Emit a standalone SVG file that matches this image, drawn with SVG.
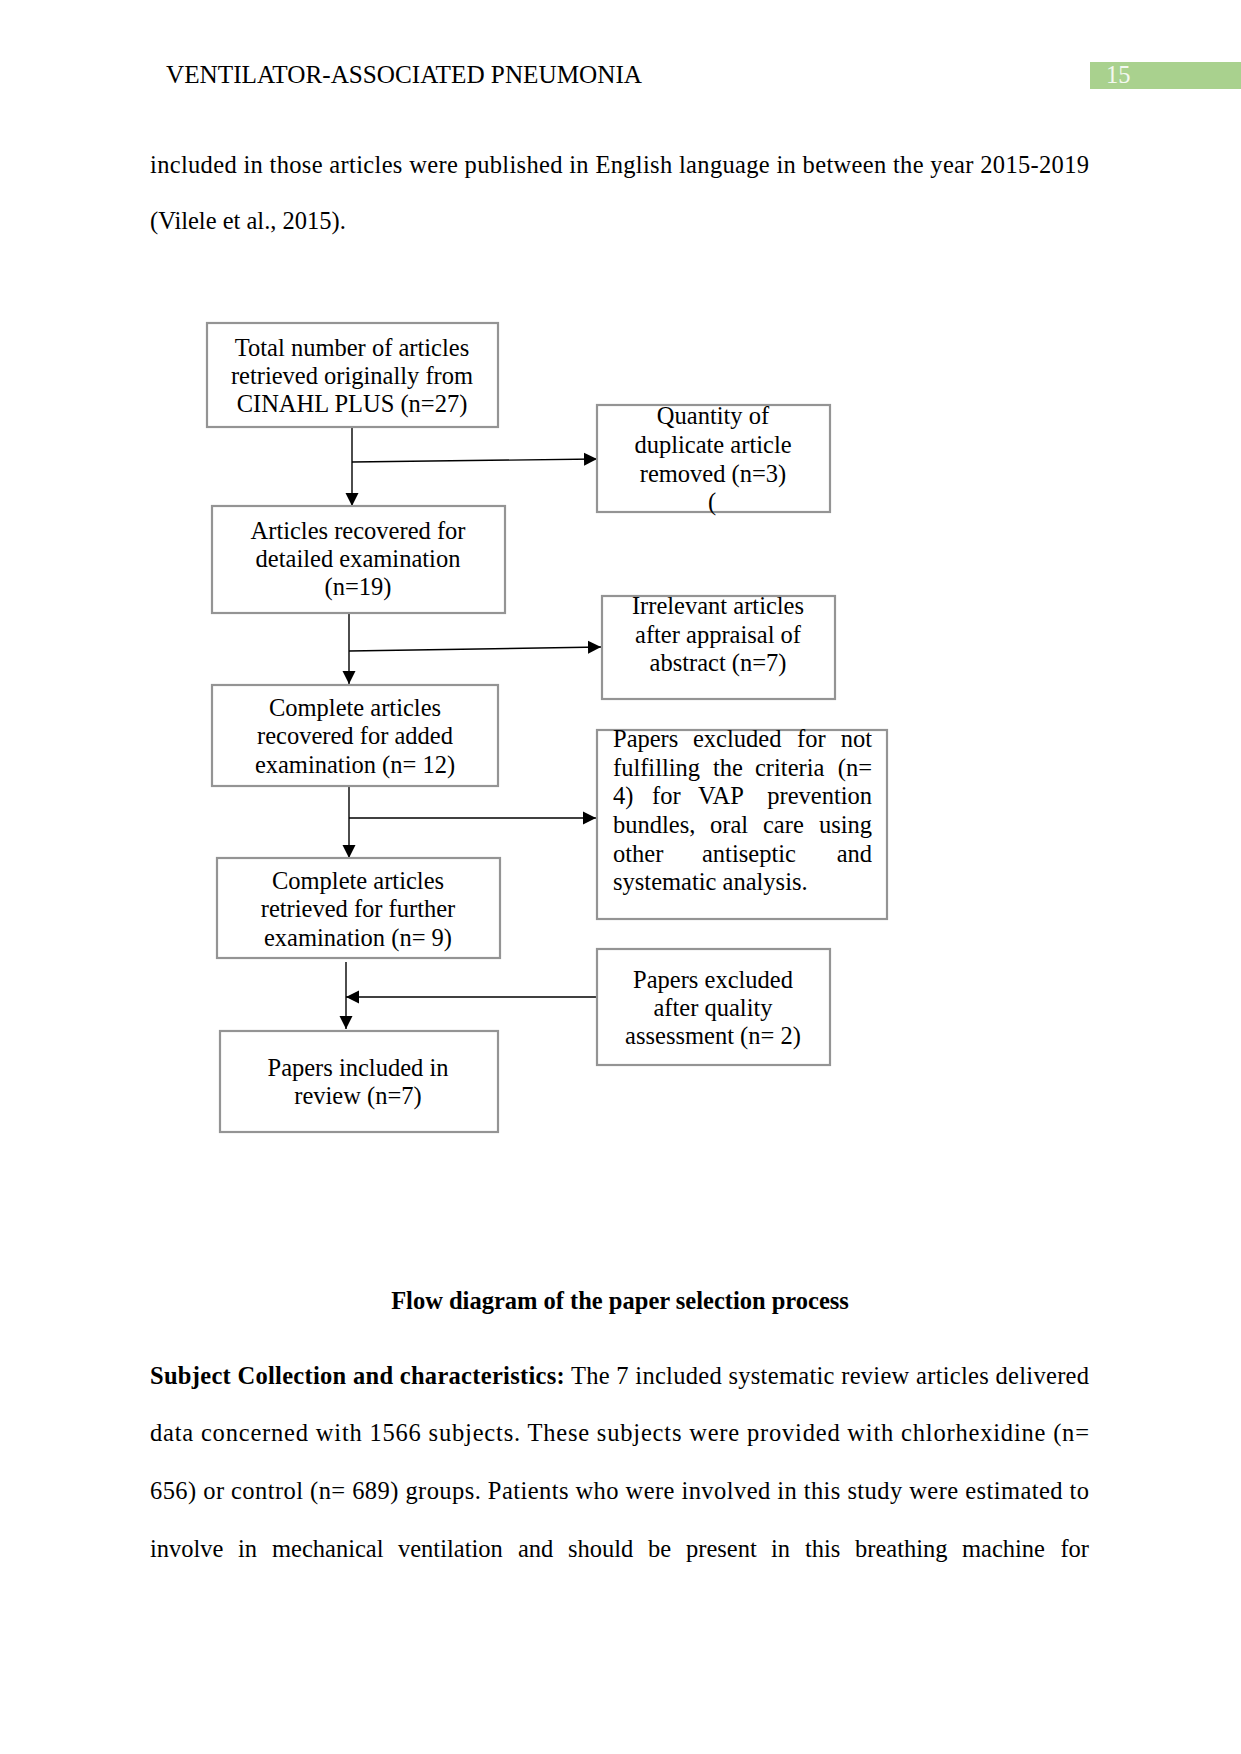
<svg xmlns="http://www.w3.org/2000/svg" width="1241" height="1754" viewBox="0 0 1241 1754">
<style>
text{font-family:"Liberation Serif","Times New Roman",serif;font-size:24.5px;fill:#000}
.c{text-anchor:middle}
.e{text-anchor:end}
.b{font-weight:bold}
.box{fill:#fff;stroke:#949494;stroke-width:2.2}
.conn{stroke:#000;stroke-width:1.4;fill:none}
</style>
<defs>
<marker id="ah" markerUnits="userSpaceOnUse" markerWidth="14" markerHeight="14" refX="13" refY="7" orient="auto">
<path d="M0,0.5 L13,7 L0,13.5 z" fill="#000"/>
</marker>
</defs>
<rect width="1241" height="1754" fill="#fff"/>

<g id="header">
<text x="166" y="83" textLength="476" lengthAdjust="spacingAndGlyphs">VENTILATOR-ASSOCIATED PNEUMONIA</text>
<rect x="1090" y="62" width="151" height="27" fill="#a9d18e"/>
<text x="1106" y="83" style="fill:#f4f8f0">15</text>
</g>

<g id="intro">
<text x="150" y="173" textLength="939" lengthAdjust="spacing">included in those articles were published in English language in between the year 2015-2019</text>
<text x="150" y="229">(Vilele et al., 2015).</text>
</g>

<g id="connectors">
<line class="conn" x1="352" y1="427" x2="352" y2="506" marker-end="url(#ah)"/>
<line class="conn" x1="352" y1="462" x2="597" y2="459" marker-end="url(#ah)"/>
<line class="conn" x1="349" y1="613" x2="349" y2="684" marker-end="url(#ah)"/>
<line class="conn" x1="349" y1="651" x2="601" y2="647" marker-end="url(#ah)"/>
<line class="conn" x1="349" y1="786" x2="349" y2="858" marker-end="url(#ah)"/>
<line class="conn" x1="349" y1="818" x2="596" y2="818" marker-end="url(#ah)"/>
<line class="conn" x1="346" y1="962" x2="346" y2="1029" marker-end="url(#ah)"/>
<line class="conn" x1="597" y1="997" x2="346" y2="997" marker-end="url(#ah)"/>
</g>

<g id="n1">
<rect class="box" x="207" y="323" width="291" height="104"/>
<text class="c" x="352" y="356">Total number of articles</text>
<text class="c" x="352" y="384">retrieved originally from</text>
<text class="c" x="352" y="412">CINAHL PLUS (n=27)</text>
</g>

<g id="n2">
<rect class="box" x="597" y="405" width="233" height="107"/>
<text class="c" x="713" y="424">Quantity of</text>
<text class="c" x="713" y="453">duplicate article</text>
<text class="c" x="713" y="482">removed (n=3)</text>
<text class="c" x="712" y="510">(</text>
</g>

<g id="n3">
<rect class="box" x="212" y="506" width="293" height="107"/>
<text class="c" x="358" y="539">Articles recovered for</text>
<text class="c" x="358" y="567">detailed examination</text>
<text class="c" x="358" y="595">(n=19)</text>
</g>

<g id="n4">
<rect class="box" x="602" y="596" width="233" height="103"/>
<text class="c" x="718" y="614">Irrelevant articles</text>
<text class="c" x="718" y="643">after appraisal of</text>
<text class="c" x="718" y="671">abstract (n=7)</text>
</g>

<g id="n5">
<rect class="box" x="212" y="685" width="286" height="101"/>
<text class="c" x="355" y="716">Complete articles</text>
<text class="c" x="355" y="744">recovered for added</text>
<text class="c" x="355" y="773">examination (n= 12)</text>
</g>

<g id="n6">
<rect class="box" x="597" y="730" width="290" height="189"/>
<text y="747"><tspan x="613">Papers</tspan><tspan x="693">excluded</tspan><tspan x="797">for</tspan><tspan x="872" text-anchor="end">not</tspan></text>
<text y="776"><tspan x="613">fulfilling</tspan><tspan x="713">the</tspan><tspan x="755">criteria</tspan><tspan x="872" text-anchor="end">(n=</tspan></text>
<text y="804"><tspan x="613">4)</tspan><tspan x="652">for</tspan><tspan x="698">VAP</tspan><tspan x="872" text-anchor="end">prevention</tspan></text>
<text y="833"><tspan x="613">bundles,</tspan><tspan x="710">oral</tspan><tspan x="763">care</tspan><tspan x="872" text-anchor="end">using</tspan></text>
<text y="862"><tspan x="613">other</tspan><tspan x="702">antiseptic</tspan><tspan x="872" text-anchor="end">and</tspan></text>
<text x="613" y="890">systematic analysis.</text>
</g>

<g id="n7">
<rect class="box" x="217" y="858" width="283" height="100"/>
<text class="c" x="358" y="889">Complete articles</text>
<text class="c" x="358" y="917">retrieved for further</text>
<text class="c" x="358" y="946">examination (n= 9)</text>
</g>

<g id="n8">
<rect class="box" x="597" y="949" width="233" height="116"/>
<text class="c" x="713" y="988">Papers excluded</text>
<text class="c" x="713" y="1016">after quality</text>
<text class="c" x="713" y="1044">assessment (n= 2)</text>
</g>

<g id="n9">
<rect class="box" x="220" y="1031" width="278" height="101"/>
<text class="c" x="358" y="1076">Papers included in</text>
<text class="c" x="358" y="1104">review (n=7)</text>
</g>

<g id="caption">
<text class="c b" x="620" y="1309">Flow diagram of the paper selection process</text>
</g>

<g id="paragraph">
<text x="150" y="1384" textLength="939" lengthAdjust="spacing"><tspan class="b">Subject Collection and characteristics:</tspan> The 7 included systematic review articles delivered</text>
<text x="150" y="1441" textLength="939" lengthAdjust="spacing">data concerned with 1566 subjects. These subjects were provided with chlorhexidine (n=</text>
<text x="150" y="1499" textLength="939" lengthAdjust="spacing">656) or control (n= 689) groups. Patients who were involved in this study were estimated to</text>
<text y="1557"><tspan x="150">involve</tspan><tspan x="238">in</tspan><tspan x="272">mechanical</tspan><tspan x="398">ventilation</tspan><tspan x="518">and</tspan><tspan x="568">should</tspan><tspan x="648">be</tspan><tspan x="686">present</tspan><tspan x="771">in</tspan><tspan x="805">this</tspan><tspan x="855">breathing</tspan><tspan x="962">machine</tspan><tspan x="1089" text-anchor="end">for</tspan></text>
</g>
</svg>
